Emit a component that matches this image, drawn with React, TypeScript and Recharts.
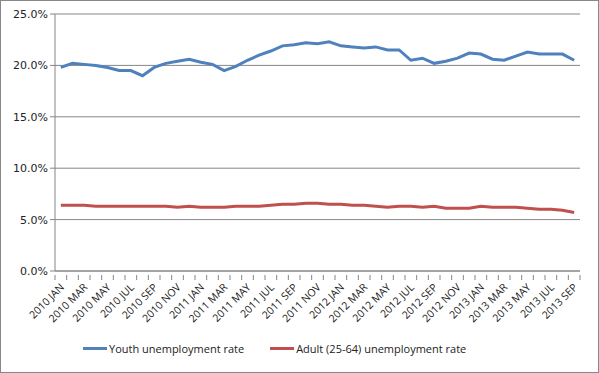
import React from 'react';
import { LineChart, Line, XAxis, YAxis, CartesianGrid, Legend } from 'recharts';

const MONTHS = ['JAN', 'FEB', 'MAR', 'APR', 'MAY', 'JUN', 'JUL', 'AUG', 'SEP', 'OCT', 'NOV', 'DEC'];
const YEARS = [2010, 2011, 2012, 2013];

// 2010 JAN .. 2013 SEP
const categories: string[] = [];
YEARS.forEach((y) => {
  MONTHS.forEach((m, i) => {
    if (y === 2013 && i > 8) return;
    categories.push(`${y} ${m}`);
  });
});

const youth = [
  19.8, 20.2, 20.1, 20.0, 19.8, 19.5, 19.5, 19.0, 19.8, 20.2, 20.4, 20.6,
  20.3, 20.1, 19.5, 19.9, 20.5, 21.0, 21.4, 21.9, 22.0, 22.2, 22.1, 22.3,
  21.9, 21.8, 21.7, 21.8, 21.5, 21.5, 20.5, 20.7, 20.2, 20.4, 20.7, 21.2,
  21.1, 20.6, 20.5, 20.9, 21.3, 21.1, 21.1, 21.1, 20.5,
];

const adult = [
  6.4, 6.4, 6.4, 6.3, 6.3, 6.3, 6.3, 6.3, 6.3, 6.3, 6.2, 6.3,
  6.2, 6.2, 6.2, 6.3, 6.3, 6.3, 6.4, 6.5, 6.5, 6.6, 6.6, 6.5,
  6.5, 6.4, 6.4, 6.3, 6.2, 6.3, 6.3, 6.2, 6.3, 6.1, 6.1, 6.1,
  6.3, 6.2, 6.2, 6.2, 6.1, 6.0, 6.0, 5.9, 5.7,
];

const yTicks = [0, 5, 10, 15, 20, 25];

const data = categories.map((name, i) => ({ name, youth: youth[i], adult: adult[i] }));

const BLUE = '#4F81BD';
const RED = '#C0504D';
const GRID = '#868686';

const STEP = 525 / categories.length;

const XTick = (props: any) => {
  const { x, y, payload, index } = props;
  const last = index === categories.length - 1;
  return (
    <g>
      <line x1={x - STEP / 2} x2={x - STEP / 2} y1={y - 4} y2={y + 1} stroke={GRID} />
      {last && <line x1={x + STEP / 2} x2={x + STEP / 2} y1={y - 4} y2={y + 1} stroke={GRID} />}
      {index % 2 === 0 && (
        <text
          x={x + 4}
          y={y + 9}
          textAnchor="end"
          fontSize={10.5}
          fontFamily="'Open Sans', 'Noto Sans', sans-serif"
          fill="#222"
          transform={`rotate(-45 ${x + 4} ${y + 9})`}
        >
          {payload.value}
        </text>
      )}
    </g>
  );
};

const LegendContent = () => (
  <div
    style={{
      display: 'flex',
      justifyContent: 'flex-start',
      alignItems: 'center',
      fontFamily: "'Open Sans', 'Noto Sans', sans-serif",
      fontSize: 11,
      color: '#222',
      paddingLeft: 82,
    }}
  >
    <span style={{ display: 'inline-block', width: 24, height: 3, background: BLUE }} />
    <span style={{ marginLeft: 2 }}>Youth unemployment rate</span>
    <span style={{ display: 'inline-block', width: 24, height: 3, background: RED, marginLeft: 26 }} />
    <span style={{ marginLeft: 2 }}>Adult (25-64) unemployment rate</span>
  </div>
);

export default function App() {
  return (
    <div
      style={{
        position: 'absolute',
        left: 0,
        top: 0,
        width: 599,
        height: 373,
        border: '1px solid #888',
        boxSizing: 'border-box',
        background: '#fff',
      }}
    >
      <LineChart
        width={597}
        height={371}
        data={data}
        margin={{ top: 13, right: 18, bottom: 11, left: 0 }}
      >
        <CartesianGrid vertical={false} stroke={GRID} strokeWidth={1} />
        <XAxis
          dataKey="name"
          interval={0}
          height={70}
          tickLine={false}
          axisLine={{ stroke: GRID }}
          padding={{ left: STEP / 2, right: STEP / 2 }}
          tick={<XTick />}
        />
        <YAxis
          width={54}
          domain={[0, 25]}
          ticks={yTicks}
          tickFormatter={(v: number) => `${v.toFixed(1)}%`}
          tick={{ fontSize: 11, fill: '#222', fontFamily: "'DejaVu Sans', sans-serif" }}
          tickSize={5}
          tickLine={{ stroke: GRID }}
          axisLine={{ stroke: GRID }}
        />
        <Legend verticalAlign="bottom" height={20} content={<LegendContent />} />
        <Line
          dataKey="youth"
          stroke={BLUE}
          strokeWidth={3}
          dot={false}
          type="linear"
          isAnimationActive={false}
        />
        <Line
          dataKey="adult"
          stroke={RED}
          strokeWidth={3}
          dot={false}
          type="linear"
          isAnimationActive={false}
        />
      </LineChart>
    </div>
  );
}
